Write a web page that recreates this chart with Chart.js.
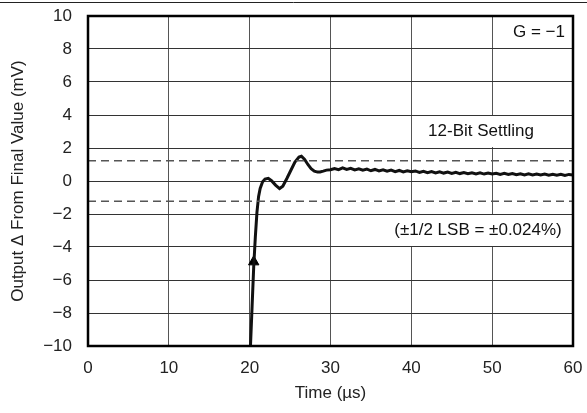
<!DOCTYPE html>
<html>
<head>
<meta charset="utf-8">
<script src="https://cdn.jsdelivr.net/npm/chart.js@4.4.0/dist/chart.umd.min.js"></script>
<style>
  body { margin: 0; background: #fff; }
  #wrap { width: 587px; height: 413px; position: relative; }
</style>
</head>
<body>
<div id="wrap"><canvas id="c" width="587" height="413"></canvas></div>
<script>
// settling response
const timeUs = [
  20.1, 20.3, 20.5, 20.7, 20.9, 21.1, 21.3, 21.6, 21.9, 22.3, 22.7, 23.2, 23.7, 24.1,
  24.6, 25.1, 25.6, 26.1, 26.4, 26.8, 27.2, 27.6, 28.0, 28.4, 28.7, 29.1, 29.5,
  30.0, 30.5, 31.0, 31.5, 32.0, 32.5, 33.0, 33.5, 34.0, 34.5, 35.0, 35.5, 36.0, 36.5,
  37.0, 37.5, 38.0, 38.5, 39.0, 39.5, 40.0, 40.5, 41.0, 41.5, 42.0, 42.5, 43.0, 43.5,
  44.0, 44.5, 45.0, 45.5, 46.0, 46.5, 47.0, 47.5, 48.0, 48.5, 49.0, 49.5, 50.0, 50.5,
  51.0, 51.5, 52.0, 52.5, 53.0, 53.5, 54.0, 54.5, 55.0, 55.5, 56.0, 56.5, 57.0, 57.5,
  58.0, 58.5, 59.0, 59.5, 60.0
];
const outputMv = [
  -10.0, -7.6, -5.2, -3.4, -1.9, -0.95, -0.45, -0.05, 0.12, 0.16, 0.02, -0.25, -0.46, -0.32,
  0.15, 0.65, 1.15, 1.45, 1.5, 1.3, 1.0, 0.75, 0.6, 0.54, 0.55, 0.6, 0.66,
  0.68, 0.76, 0.69, 0.80, 0.70, 0.77, 0.67, 0.74, 0.65, 0.72, 0.62, 0.70, 0.61, 0.68,
  0.59, 0.66, 0.57, 0.64, 0.55, 0.62, 0.56, 0.61, 0.52, 0.59, 0.51, 0.57, 0.49, 0.56,
  0.48, 0.54, 0.46, 0.53, 0.45, 0.51, 0.44, 0.50, 0.43, 0.49, 0.42, 0.48, 0.43, 0.47,
  0.40, 0.46, 0.39, 0.45, 0.38, 0.44, 0.37, 0.43, 0.37, 0.42, 0.36, 0.42, 0.35, 0.41,
  0.35, 0.41, 0.34, 0.40, 0.37
];
const arrowPoint = [{ x: 20.5, y: -4.9 }];
const settleBand = [1.22, -1.22];
const xTicks = [0, 10, 20, 30, 40, 50, 60];
const yTicks = [-10, -8, -6, -4, -2, 0, 2, 4, 6, 8, 10];

const FONT = '"Liberation Sans", Arial, sans-serif';

const curve = timeUs.map((t, i) => ({ x: t, y: outputMv[i] }));
const bandLines = settleBand.map(v => [{ x: 0, y: v }, { x: 60, y: v }]);

const notes = {
  id: 'notes',
  beforeDatasetsDraw(chart) {
    const ctx = chart.ctx, xs = chart.scales.x, ys = chart.scales.y;
    const a = chart.chartArea;
    ctx.save();
    // white boxes behind the labels hide the vertical grid
    ctx.fillStyle = '#fff';
    let y0 = ys.getPixelForValue(4), y1 = ys.getPixelForValue(2);
    ctx.fillRect(xs.getPixelForValue(41), y0 + 1, a.right - xs.getPixelForValue(41), y1 - y0 - 2);
    y0 = ys.getPixelForValue(-2); y1 = ys.getPixelForValue(-4);
    ctx.fillRect(xs.getPixelForValue(37), y0 + 1, a.right - xs.getPixelForValue(37), y1 - y0 - 2);
    ctx.fillStyle = '#111';
    ctx.font = '17px ' + FONT;
    ctx.textBaseline = 'middle';
    ctx.textAlign = 'center';
    ctx.fillText('G = \u22121', 539, ys.getPixelForValue(9));
    ctx.fillText('12-Bit Settling', 481, ys.getPixelForValue(3));
    ctx.fillText('(\u00b11/2 LSB = \u00b10.024%)', 478, ys.getPixelForValue(-3));
    ctx.restore();
  },
  afterDatasetsDraw(chart) {
    const ctx = chart.ctx, a = chart.chartArea;
    ctx.save();
    ctx.strokeStyle = '#000';
    ctx.lineWidth = 2.5;
    ctx.strokeRect(a.left, a.top, a.right - a.left, a.bottom - a.top);
    ctx.restore();
  },
  afterDraw(chart) {
    const ctx = chart.ctx;
    ctx.save();
    ctx.strokeStyle = '#222';
    ctx.lineWidth = 1;
    ctx.beginPath();
    ctx.moveTo(0, 2.5);
    ctx.lineTo(chart.width, 2.5);
    ctx.stroke();
    ctx.restore();
  }
};

new Chart(document.getElementById('c'), {
  type: 'scatter',
  data: {
    datasets: [
      {
        data: bandLines[0],
        showLine: true, borderColor: '#555', borderWidth: 1.5, borderDash: [8, 5],
        pointRadius: 0
      },
      {
        data: bandLines[1],
        showLine: true, borderColor: '#555', borderWidth: 1.5, borderDash: [8, 5],
        pointRadius: 0
      },
      {
        data: curve, showLine: true, borderColor: '#111', borderWidth: 3,
        pointRadius: 0, tension: 0, clip: 2
      },
      {
        data: arrowPoint, pointStyle: 'triangle', pointRadius: 6,
        backgroundColor: '#000', borderColor: '#000', borderWidth: 1
      }
    ]
  },
  options: {
    responsive: false,
    animation: false,
    events: [],
    layout: { autoPadding: false, padding: { top: 16, right: 14, left: 0, bottom: 0 } },
    plugins: { legend: { display: false }, tooltip: { enabled: false } },
    scales: {
      x: {
        type: 'linear', min: 0, max: 60,
        afterBuildTicks: s => { s.ticks = xTicks.map(v => ({ value: v })); },
        afterFit: s => { s.height = 67; s.paddingLeft = 0; s.paddingRight = 0; },
        grid: { color: '#555', lineWidth: 1, drawTicks: false },
        border: { display: false },
        ticks: { color: '#222', padding: 12, font: { family: FONT, size: 17 } },
        title: {
          display: true, text: 'Time (\u00b5s)', color: '#222',
          font: { family: FONT, size: 17 }, padding: { top: 0, bottom: 9 }
        }
      },
      y: {
        type: 'linear', min: -10, max: 10,
        afterBuildTicks: s => { s.ticks = yTicks.map(v => ({ value: v })); },
        afterFit: s => { s.width = 88; s.paddingTop = 0; s.paddingBottom = 0; },
        grid: { color: '#333', lineWidth: 1, drawTicks: false },
        border: { display: false },
        ticks: {
          color: '#222', padding: 16, font: { family: FONT, size: 17 },
          callback: v => String(v).replace('-', '\u2212')
        },
        title: {
          display: true, text: 'Output \u0394 From Final Value (mV)', color: '#222',
          font: { family: FONT, size: 17 }, padding: { top: 8, bottom: 0 }
        }
      }
    }
  },
  plugins: [notes]
});
</script>
</body>
</html>
